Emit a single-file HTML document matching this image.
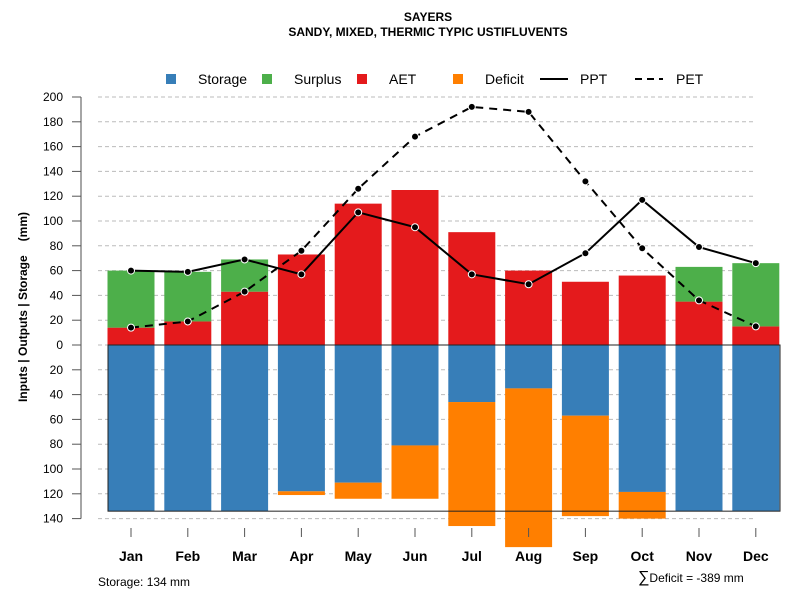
<!DOCTYPE html>
<html><head><meta charset="utf-8"><style>
body{margin:0;background:#fff;font-family:"Liberation Sans",sans-serif}
svg text{font-family:"Liberation Sans",sans-serif}
</style></head><body>
<svg id="c" width="800" height="600" viewBox="0 0 800 600">
<text x="428" y="21" text-anchor="middle" font-size="12" font-weight="bold">SAYERS</text>
<text x="428" y="36" text-anchor="middle" font-size="12" font-weight="bold">SANDY, MIXED, THERMIC TYPIC USTIFLUVENTS</text>
<g font-size="14">
<rect x="166" y="74" width="10" height="10" fill="#377eb8"/>
<text x="198" y="84">Storage</text>
<rect x="262" y="74" width="10" height="10" fill="#4daf4a"/>
<text x="294" y="84">Surplus</text>
<rect x="357" y="74" width="10" height="10" fill="#e41a1c"/>
<text x="389" y="84">AET</text>
<rect x="453" y="74" width="10" height="10" fill="#ff7f00"/>
<text x="485" y="84">Deficit</text>
<line x1="540" y1="79" x2="568" y2="79" stroke="#000" stroke-width="2"/>
<text x="580" y="84">PPT</text>
<line x1="635" y1="79" x2="663" y2="79" stroke="#000" stroke-width="2" stroke-dasharray="7,5"/>
<text x="676" y="84">PET</text>
</g>
<text transform="translate(27,307) rotate(-90)" text-anchor="middle" font-size="12" font-weight="bold">Inputs | Outputs | Storage<tspan dx="14">(mm)</tspan></text>
<text x="98" y="586" font-size="12">Storage: 134 mm</text>
<text x="638" y="582" font-size="12"><tspan font-size="16">∑</tspan>Deficit = -389 mm</text>
<g id="plot"></g>
</svg>
<script>
const months=["Jan","Feb","Mar","Apr","May","Jun","Jul","Aug","Sep","Oct","Nov","Dec"];
const aet=[14,19,43,73,114,125,91,60,51,56,35,15];
const surplus=[46,40,26,0,0,0,0,0,0,0,28,51];
const storage=[134,134,134,118,111,81,46,35,57,118.5,134,134];
const deficit=[0,0,0,3,13,43,100,128,81,21.5,0,0];
const ppt=[60,59,69,57,107,95,57,49,74,117,79,66];
const pet=[14,19,43,76,126,168,192,188,132,78,36,15];
const yTicks=[200,180,160,140,120,100,80,60,40,20,0,-20,-40,-60,-80,-100,-120,-140];
const maxStorage=134;
const NS="http://www.w3.org/2000/svg";
const g=document.getElementById("plot");
const y=v=>345-v*1.24;
const xc=i=>131+i*56.8;
const bw=47;
function mk(t,a,p){const e=document.createElementNS(NS,t);for(const k in a)e.setAttribute(k,a[k]);(p||g).appendChild(e);return e;}
mk("line",{x1:81,y1:y(200),x2:81,y2:y(-140),stroke:"#888","stroke-width":1.5});
yTicks.forEach(v=>{
  const l=mk("line",{x1:98,y1:y(v),x2:755,y2:y(v),stroke:"#bbb","stroke-dasharray":"4,3"});
  
  
  mk("line",{x1:72,y1:y(v),x2:81,y2:y(v),stroke:"#555"});
  const t=mk("text",{x:63,y:y(v)+4,"text-anchor":"end","font-size":12});
  t.textContent=Math.abs(v);
  
  
});
months.forEach((m,i)=>{
  const x=xc(i)-bw/2;
  let r=mk("rect",{x:x,y:y(aet[i]),width:bw,height:aet[i]*1.24,fill:"#e41a1c"});
  
  
  r=mk("rect",{x:x,y:y(aet[i]+surplus[i]),width:bw,height:surplus[i]*1.24,fill:"#4daf4a"});
  
  
  r=mk("rect",{x:x,y:y(0),width:bw,height:storage[i]*1.24,fill:"#377eb8"});
  
  
  r=mk("rect",{x:x,y:y(-storage[i]),width:bw,height:deficit[i]*1.24,fill:"#ff7f00"});
  
  
  mk("line",{x1:xc(i),y1:528,x2:xc(i),y2:537,stroke:"#555"});
  const t=mk("text",{x:xc(i),y:561,"text-anchor":"middle","font-size":14,"font-weight":"bold"});
  t.textContent=m;
  
  
});
const box=mk("rect",{x:108,y:y(0),width:672,height:maxStorage*1.24,fill:"none",stroke:"#222","stroke-width":1});


function line(arr,dash,name){
  const p=mk("polyline",{points:arr.map((v,i)=>xc(i)+","+y(v)).join(" "),fill:"none",stroke:"#000","stroke-width":2,"stroke-dasharray":dash});
  
  
  arr.forEach((v,i)=>{
    const c=mk("circle",{cx:xc(i),cy:y(v),r:3.5,fill:"#000",stroke:"#fff","stroke-width":1});
    
    
  });
}
line(pet,"8,6","pet");
line(ppt,"none","ppt");
</script>
</body></html>
